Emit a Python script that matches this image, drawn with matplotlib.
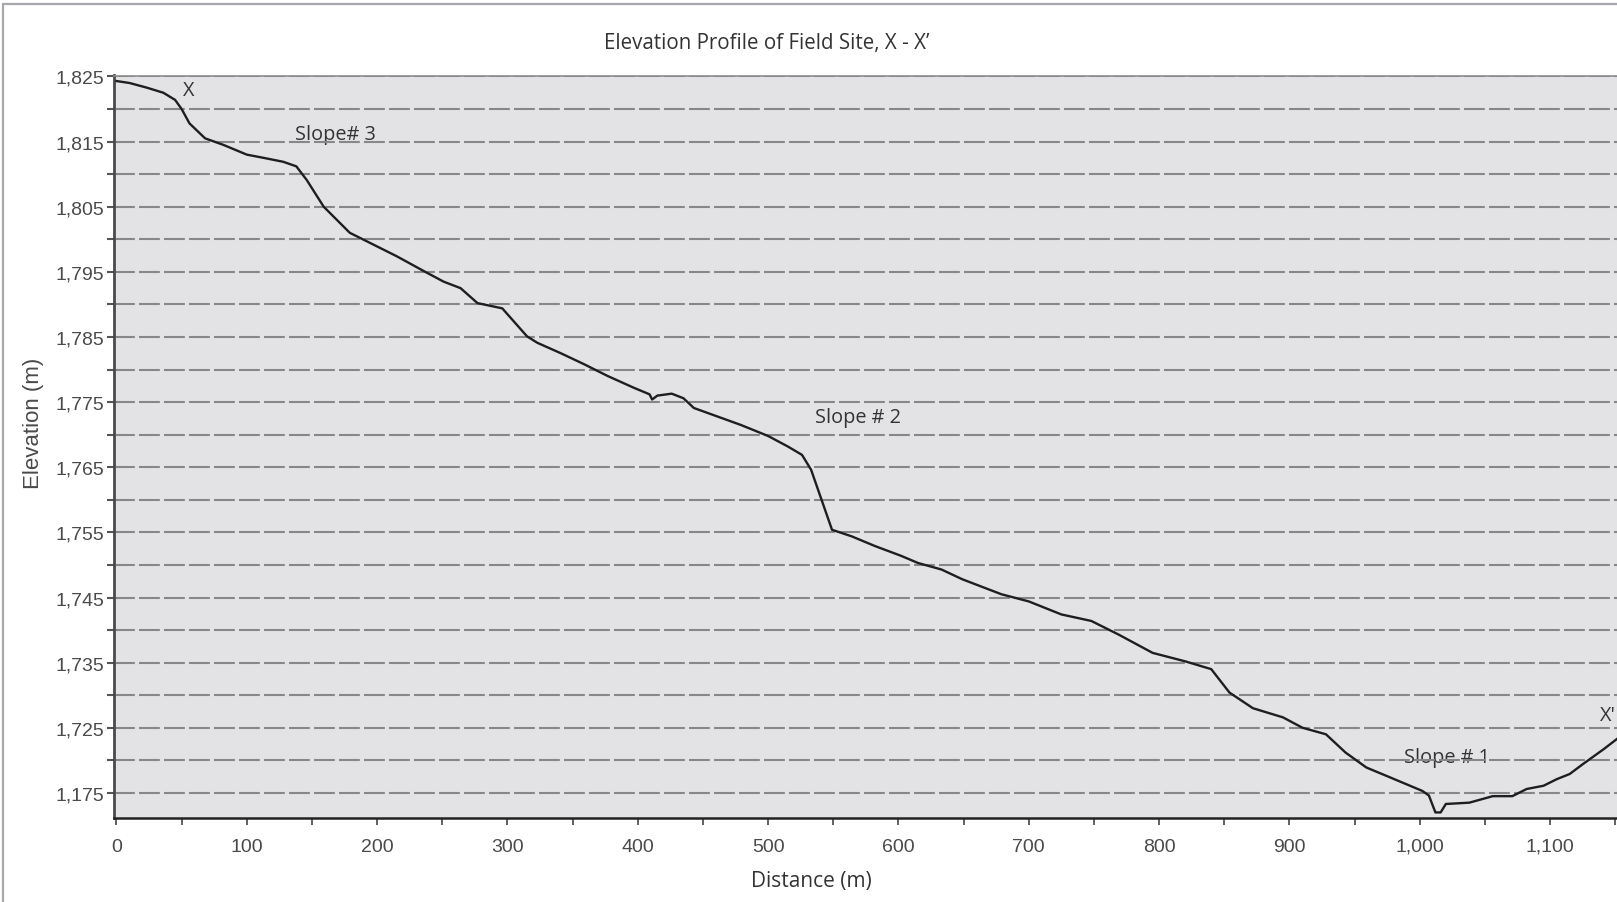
import matplotlib
matplotlib.use("Agg")
import matplotlib.pyplot as plt
from matplotlib.patches import Rectangle
from matplotlib.ticker import FixedLocator, FixedFormatter, MultipleLocator, FuncFormatter

distance = [0, 10, 23, 36, 45, 50, 56, 68, 82, 100,
            113, 128, 138, 146, 159, 179, 195, 215, 236, 251,
            264, 277, 296, 315, 323, 341, 359, 377, 397, 409,
            411, 415, 426, 435, 443, 461, 479, 500, 515, 526,
            533, 541, 549, 564, 582, 602, 615, 633, 649, 679,
            700, 725, 748, 769, 795, 820, 840, 854, 872, 895,
            910, 928, 943, 959, 977, 1002, 1007, 1012, 1016, 1020,
            1038, 1056, 1071, 1082, 1095, 1105, 1115, 1125, 1141, 1154]
elevation = [1824.3, 1824.0, 1823.3, 1822.5, 1821.4, 1820.0, 1817.8, 1815.5, 1814.5, 1813.0,
             1812.5, 1811.9, 1811.2, 1809.1, 1805.0, 1801.0, 1799.4, 1797.4, 1795.1, 1793.5,
             1792.5, 1790.2, 1789.4, 1785.1, 1784.1, 1782.5, 1780.8, 1779.0, 1777.2, 1776.2,
             1775.4, 1776.0, 1776.3, 1775.6, 1774.1, 1772.8, 1771.5, 1769.8, 1768.2, 1766.9,
             1764.6, 1760.0, 1755.4, 1754.4, 1752.9, 1751.4, 1750.3, 1749.3, 1747.8, 1745.5,
             1744.4, 1742.4, 1741.4, 1739.3, 1736.5, 1735.2, 1734.0, 1730.4, 1728.0, 1726.6,
             1725.0, 1724.0, 1721.2, 1718.9, 1717.4, 1715.3, 1714.6, 1712.0, 1712.0, 1713.3,
             1713.5, 1714.5, 1714.5, 1715.6, 1716.1, 1717.1, 1717.9, 1719.4, 1721.7, 1723.7]

y_major = [1825, 1815, 1805, 1795, 1785, 1775, 1765, 1755, 1745, 1735, 1725, 1715]
y_labels = ["1,825", "1,815", "1,805", "1,795", "1,785", "1,775", "1,765",
            "1,755", "1,745", "1,735", "1,725", "1,175"]
y_minor = [1820, 1810, 1800, 1790, 1780, 1770, 1760, 1750, 1740, 1730, 1720]

annotations = [("X", 55.5, 1823.0), ("Slope# 3", 168, 1816.2), ("Slope # 2", 568.6, 1772.7),
               ("Slope # 1", 1020.8, 1720.5), ("X'", 1144.6, 1726.9)]

W, H = 1617, 903
fig = plt.figure(figsize=(W / 100, H / 100), dpi=100)
fig.patch.set_facecolor("white")
# outer frame
fig.patches.append(Rectangle((3 / W, -0.1), 1.2, 1 - 5 / H + 0.1, transform=fig.transFigure,
                             fill=False, edgecolor="#a8a8ac", linewidth=1.6))

ax = fig.add_axes([114 / W, 1 - 819.3 / H, 1 - 114 / W + 0.002, (819.3 - 76.5) / H])
ax.set_facecolor("#e3e3e5")
ax.set_xlim(-1.9, 1153.8)
ax.set_ylim(1711.1, 1825.15)

ax.plot(distance, elevation, color="#1e1e1e", linewidth=1.7, zorder=3)

ax.yaxis.set_major_locator(FixedLocator(y_major))
ax.yaxis.set_major_formatter(FixedFormatter(y_labels))
ax.yaxis.set_minor_locator(FixedLocator(y_minor))
ax.xaxis.set_major_locator(MultipleLocator(100))
ax.xaxis.set_minor_locator(MultipleLocator(50))
ax.xaxis.set_major_formatter(FuncFormatter(lambda v, p: f"{int(round(v)):,}"))

ax.set_axisbelow("line")
ax.grid(True, which="both", axis="y", color="#87878a", linewidth=1.5,
        linestyle=(0, (10, 2)))
ax.grid(False, axis="x")

ax.spines["right"].set_visible(False)
ax.spines["top"].set_color("#8c8c8e")
ax.spines["top"].set_linewidth(1.2)
ax.spines["left"].set_color("#4a4a4a")
ax.spines["left"].set_linewidth(2.0)
ax.spines["bottom"].set_color("#222222")
ax.spines["bottom"].set_linewidth(1.8)

ax.tick_params(axis="y", which="both", direction="out", length=5, width=1.5,
               color="#555555", labelsize=14, labelcolor="#4a4a4a", pad=2)
ax.tick_params(axis="x", which="both", direction="out", length=5, width=1.2,
               color="#444444", labelsize=14, labelcolor="#4a4a4a", pad=9)
for lab in ax.get_xticklabels() + ax.get_yticklabels():
    lab.set_fontfamily("Liberation Sans")

for txt, x, y in annotations:
    ax.text(x, y, txt, fontsize=14.3, color="#333333", ha="center", va="center",
            family="Open Sans", zorder=1)

fig.text(767 / W, 1 - 44 / H, "Elevation Profile of Field Site, X - X\u2019",
         ha="center", va="center", fontsize=14.8, color="#333333", family="Open Sans")
fig.text(811.6 / W, 1 - 881.5 / H, "Distance (m)", ha="center", va="center",
         fontsize=15, color="#333333", family="Open Sans")
fig.text(34 / W, 1 - 423 / H, "Elevation (m)", ha="center", va="center", rotation=90,
         fontsize=16, color="#4a4a4a", family="Liberation Sans")

fig.savefig("out.png", dpi=100)
